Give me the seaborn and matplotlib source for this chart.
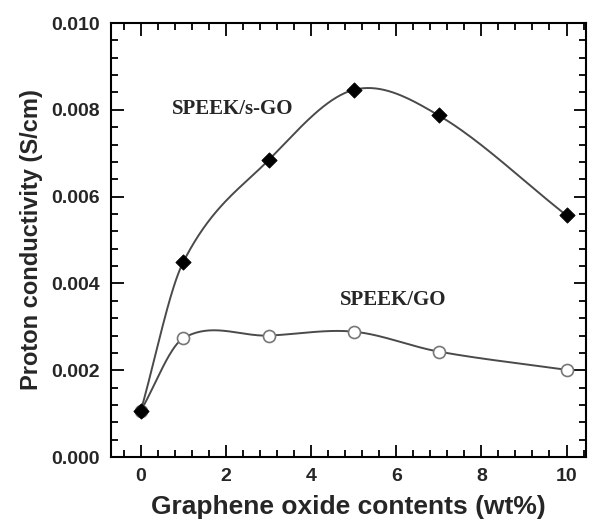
import numpy as np
import pandas as pd
import matplotlib
matplotlib.use("Agg")
import matplotlib.pyplot as plt
import seaborn as sns
from matplotlib.ticker import MultipleLocator

# Données
go_contents = [0, 1, 3, 5, 7, 10]
conductivity_sgo = [0.00107, 0.00450, 0.00684, 0.00846, 0.00787, 0.00557]
conductivity_go = [0.00107, 0.00274, 0.00280, 0.00289, 0.00243, 0.00201]
x_ticks = [0, 2, 4, 6, 8, 10]
y_ticks = [0.000, 0.002, 0.004, 0.006, 0.008, 0.010]


def courbe_lisse(x, y, n=40):
    """Courbe lissée (Hermite type Catmull-Rom) pour le tracé de la ligne."""
    x = np.asarray(x, float)
    y = np.asarray(y, float)
    m = np.zeros_like(y)
    m[0] = (y[1] - y[0]) / (x[1] - x[0])
    m[-1] = (y[-1] - y[-2]) / (x[-1] - x[-2])
    m[1:-1] = (y[2:] - y[:-2]) / (x[2:] - x[:-2])
    xs_all, ys_all = [], []
    for i in range(len(x) - 1):
        h = x[i + 1] - x[i]
        t = np.linspace(0, 1, n)
        h00 = 2 * t**3 - 3 * t**2 + 1
        h10 = t**3 - 2 * t**2 + t
        h01 = -2 * t**3 + 3 * t**2
        h11 = t**3 - t**2
        xs_all.append(x[i] + t * h)
        ys_all.append(h00 * y[i] + h10 * h * m[i] + h01 * y[i + 1] + h11 * h * m[i + 1])
    return np.concatenate(xs_all), np.concatenate(ys_all)


sns.set_style("white")
plt.rcParams['font.family'] = ['Liberation Sans', 'DejaVu Sans']

fig, ax = plt.subplots(figsize=(5.97, 5.23), dpi=100)
fig.subplots_adjust(left=0.186, right=0.981, top=0.956, bottom=0.126)

line_color = "#4a4a4a"
for yvals in (conductivity_sgo, conductivity_go):
    xs, ys = courbe_lisse(go_contents, yvals)
    sns.lineplot(x=xs, y=ys, ax=ax, color=line_color, linewidth=1.4, zorder=2, sort=False)

pts = pd.DataFrame({"x": go_contents, "sgo": conductivity_sgo, "go": conductivity_go})
sns.scatterplot(data=pts, x="x", y="go", ax=ax, marker="o", s=75,
                facecolor="white", edgecolor="#777777", linewidth=1.2, zorder=3)
sns.scatterplot(data=pts, x="x", y="sgo", ax=ax, marker="D", s=60,
                color="black", edgecolor="black", zorder=4)

ax.set_xlim(-0.7, 10.45)
ax.set_ylim(0, 0.0100)
ax.set_xticks(x_ticks)
ax.set_yticks(y_ticks)
ax.set_xticklabels([str(t) for t in x_ticks])
ax.set_yticklabels([f"{t:.3f}" for t in y_ticks])
ax.xaxis.set_minor_locator(MultipleLocator(0.4))
ax.yaxis.set_minor_locator(MultipleLocator(0.0004))

ax.tick_params(which="both", direction="in", top=True, right=True,
               bottom=True, left=True, width=1.3, color="black")
ax.tick_params(which="major", length=9, labelsize=14, pad=8)
ax.tick_params(which="minor", length=5)
for lab in ax.get_xticklabels() + ax.get_yticklabels():
    lab.set_fontweight("bold")

for sp in ax.spines.values():
    sp.set_visible(True)
    sp.set_color("black")
    sp.set_linewidth(1.5)

ax.set_xlabel("Graphene oxide contents (wt%)", fontsize=19, fontweight="bold", labelpad=7)
ax.set_ylabel("Proton conductivity (S/cm)", fontsize=17, fontweight="bold", labelpad=6)

ax.text(2.16, 0.00803, "SPEEK/s-GO", family=["Liberation Serif", "DejaVu Serif"],
        fontsize=15, fontweight="bold", ha="center", va="center")
ax.text(5.94, 0.00361, "SPEEK/GO", family=["Liberation Serif", "DejaVu Serif"],
        fontsize=15, fontweight="bold", ha="center", va="center")

fig.savefig("out.png", dpi=100)
